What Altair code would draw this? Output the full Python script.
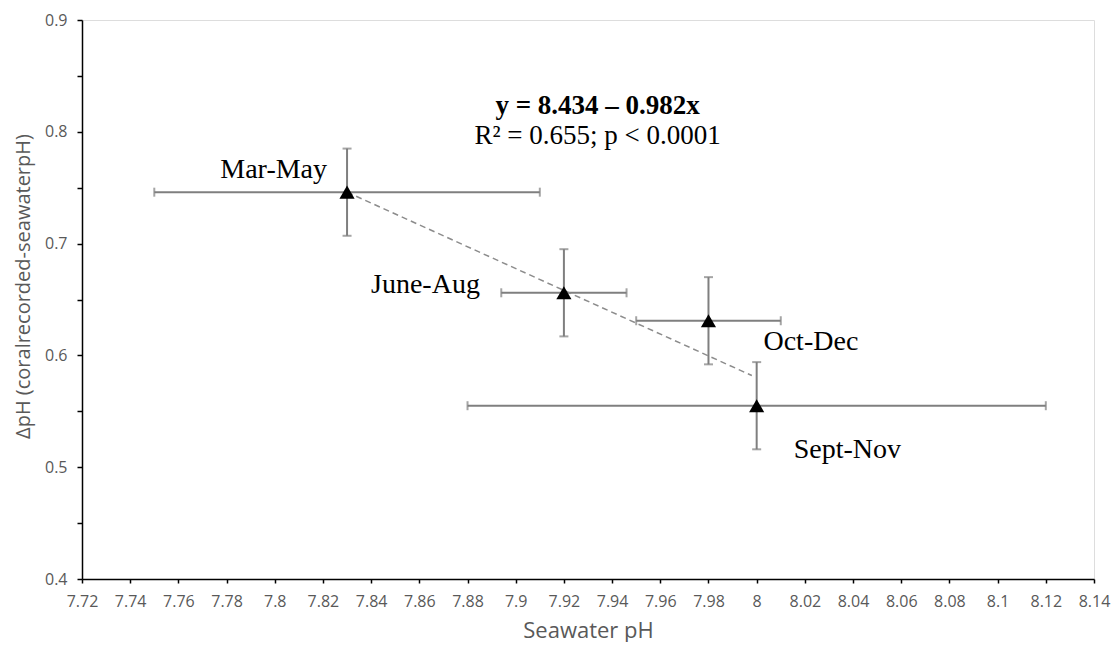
import altair as alt
import pandas as pd

# ---- data ----
seasons = ["Mar-May", "June-Aug", "Oct-Dec", "Sept-Nov"]
seawater_ph = [7.83, 7.92, 7.98, 8.00]
delta_ph = [0.746, 0.656, 0.631, 0.555]
x_err = [0.08, 0.026, 0.03, 0.12]
y_err = [0.039, 0.039, 0.039, 0.039]

trend_x = [7.83, 7.998]
trend_y = [0.746, 0.582]

eq_lines = ["y = 8.434 \u2013 0.982x", "R\u00b2 = 0.655; p < 0.0001"]
eq_x = [7.934, 7.934]
eq_y = [0.823, 0.796]

x_ticks = [7.72, 7.73, 7.74, 7.75, 7.76, 7.77, 7.78, 7.79, 7.80, 7.81, 7.82, 7.83,
           7.84, 7.85, 7.86, 7.87, 7.88, 7.89, 7.90, 7.91, 7.92, 7.93, 7.94, 7.95,
           7.96, 7.97, 7.98, 7.99, 8.00, 8.01, 8.02, 8.03, 8.04, 8.05, 8.06, 8.07,
           8.08, 8.09, 8.10, 8.11, 8.12, 8.13, 8.14]
x_labeled = [7.72, 7.74, 7.76, 7.78, 7.8, 7.82, 7.84, 7.86, 7.88, 7.9, 7.92, 7.94,
             7.96, 7.98, 8.0, 8.02, 8.04, 8.06, 8.08, 8.1, 8.12, 8.14]
y_ticks = [0.4, 0.45, 0.5, 0.55, 0.6, 0.65, 0.7, 0.75, 0.8, 0.85, 0.9]
y_labeled = [0.4, 0.5, 0.6, 0.7, 0.8, 0.9]

df = pd.DataFrame({
    "season": seasons,
    "x": seawater_ph,
    "y": delta_ph,
    "xlo": [a - b for a, b in zip(seawater_ph, x_err)],
    "xhi": [a + b for a, b in zip(seawater_ph, x_err)],
    "ylo": [a - b for a, b in zip(delta_ph, y_err)],
    "yhi": [a + b for a, b in zip(delta_ph, y_err)],
})
trend = pd.DataFrame({"x": trend_x, "y": trend_y})
eq = pd.DataFrame({"t": eq_lines, "x": eq_x, "y": eq_y, "i": [0, 1]})

AX_FONT = "Open Sans"
SERIF = "Liberation Serif"
GRAY = "#595959"
BAR = "#7f7f7f"

xlab = "[" + ", ".join(repr(v) for v in x_labeled) + "]"
ylab = "[" + ", ".join(repr(v) for v in y_labeled) + "]"

xscale = alt.Scale(domain=[7.72, 8.14], nice=False, zero=False)
yscale = alt.Scale(domain=[0.4, 0.9], nice=False, zero=False)

X = alt.X("xlo:Q", scale=xscale, axis=alt.Axis(
    title="Seawater pH", values=x_ticks,
    labelExpr=f"indexof({xlab}, datum.value) >= 0 ? '' + datum.value : ''",
    grid=False, domainColor="#000000", domainWidth=1.5, tickColor="#000000",
    tickWidth=1.5, tickSize=4, labelColor=GRAY, labelFont=AX_FONT, labelFontSize=16,
    labelPadding=10, labelOverlap=False, labelFlush=False,
    titleFont=AX_FONT, titleFontSize=22, titleFontWeight="normal", titleColor=GRAY,
    titleY=51, titleBaseline="middle"))
Y = alt.Y("y:Q", scale=yscale, axis=alt.Axis(
    title="\u0394pH (coralrecorded-seawaterpH)", values=y_ticks,
    labelExpr=f"indexof({ylab}, datum.value) >= 0 ? '' + datum.value : ''",
    grid=False, domainColor="#000000", domainWidth=1.5, tickColor="#000000",
    tickWidth=1.5, tickSize=5, labelColor=GRAY, labelFont=AX_FONT, labelFontSize=16,
    labelPadding=10, labelOverlap=False, labelFlush=False,
    titleFont=AX_FONT, titleFontSize=20, titleFontWeight="normal", titleColor=GRAY,
    titleX=-59, titleY=266, titleBaseline="middle", titleAngle=-90))

base = alt.Chart(df)

hbar = base.mark_rule(color=BAR, strokeWidth=2).encode(x=X, x2="xhi:Q", y=Y)
vbar = base.mark_rule(color=BAR, strokeWidth=2).encode(x="x:Q", y="ylo:Q", y2="yhi:Q")
cap_l = base.mark_tick(color=BAR, orient="vertical", size=9, thickness=2).encode(x="xlo:Q", y="y:Q")
cap_r = base.mark_tick(color=BAR, orient="vertical", size=9, thickness=2).encode(x="xhi:Q", y="y:Q")
cap_b = base.mark_tick(color=BAR, orient="horizontal", size=9, thickness=2).encode(x="x:Q", y="ylo:Q")
cap_t = base.mark_tick(color=BAR, orient="horizontal", size=9, thickness=2).encode(x="x:Q", y="yhi:Q")

line = alt.Chart(trend).mark_line(color="#8c8c8c", strokeWidth=1.5, strokeDash=[6, 4]).encode(
    x="x:Q", y="y:Q")

pts = base.mark_point(shape="triangle-up", filled=True, color="#000000", size=230, opacity=1).encode(
    x="x:Q", y="y:Q")

def label(name, dx, dy, align):
    return base.transform_filter(alt.datum.season == name).mark_text(
        font=SERIF, fontSize=28, color="#000000", align=align, baseline="middle",
        dx=dx, dy=dy).encode(x="x:Q", y="y:Q", text="season:N")

labels = [
    label("Mar-May", -20, -22, "right"),
    label("June-Aug", -84, -8, "right"),
    label("Oct-Dec", 55, 21, "left"),
    label("Sept-Nov", 37, 44, "left"),
]

eq1 = alt.Chart(eq).transform_filter(alt.datum.i == 0).mark_text(
    font=SERIF, fontSize=27, fontWeight="bold", color="#000000", align="center",
    baseline="middle").encode(x="x:Q", y="y:Q", text="t:N")
eq2 = alt.Chart(eq).transform_filter(alt.datum.i == 1).mark_text(
    font=SERIF, fontSize=27, color="#000000", align="center",
    baseline="middle").encode(x="x:Q", y="y:Q", text="t:N")

chart = alt.layer(hbar, vbar, cap_l, cap_r, cap_b, cap_t, line, pts, *labels, eq1, eq2).properties(
    width=1012, height=559,
    autosize=alt.AutoSizeParams(type="none"),
    padding={"left": 74, "top": 12, "right": 17, "bottom": 63},
).configure_view(stroke=None).configure(background="#ffffff")

chart.save("out.html", embed_options={"renderer": "svg", "actions": False})
